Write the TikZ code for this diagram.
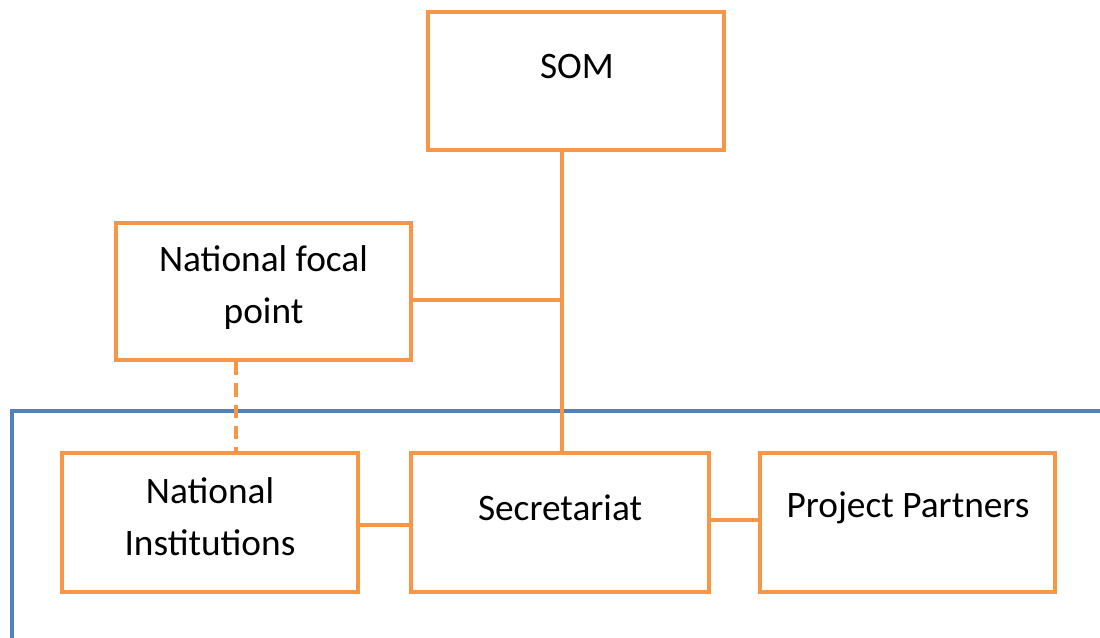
\documentclass[tikz,border=0pt]{standalone}
\usepackage{fontspec}
\setmainfont{Carlito}
\definecolor{borange}{HTML}{F79646}
\definecolor{fblue}{HTML}{4F81BD}
\begin{document}
\begin{tikzpicture}[x=0.75pt,y=-0.75pt,
  box/.style={draw=borange,line width=3pt,fill=white,inner sep=0pt},
  lbl/.style={font=\fontsize{28}{39}\selectfont,align=center,inner sep=0pt},
  conn/.style={draw=borange,line width=3.2pt}]
\useasboundingbox (0,0) rectangle (1100,638);
\draw[fblue,line width=3pt] (12,645) -- (12,411) -- (1110,411);
% boxes
\node[box,minimum width=296*0.75pt,minimum height=138*0.75pt] (som) at (576,81) {};
\node[box,minimum width=295*0.75pt,minimum height=137*0.75pt] (nfp) at (263.5,291.5) {};
\node[box,minimum width=296*0.75pt,minimum height=139*0.75pt] (ni) at (210,522.5) {};
\node[box,minimum width=298*0.75pt,minimum height=139*0.75pt] (sec) at (560,522.5) {};
\node[box,minimum width=295*0.75pt,minimum height=139*0.75pt] (pp) at (907.5,522.5) {};
% labels
\node[lbl] (somt) at (577,67) {SOM};
\node[lbl] (nfpt) at (263.5,288) {National focal\\point};
\node[lbl] (nit) at (210,517) {National\\Institutions};
\node[lbl] (sect) at (560,508) {Secretariat};
\node[lbl] (ppt) at (908,508) {Project Partners};
% connectors
\coordinate (j) at (562,300);
\draw[conn] (som.south -| j) -- (sec.north -| j);
\draw[conn] (nfp.east |- j) -- (j);
\draw[conn,dash pattern=on 10pt off 6pt] (nfp.south -| 236,0) -- (ni.north -| 236,0);
\draw[conn] (ni.east |- 0,525) -- (sec.west |- 0,525);
\draw[conn] (sec.east |- 0,520) -- (pp.west |- 0,520);
\end{tikzpicture}
\end{document}
